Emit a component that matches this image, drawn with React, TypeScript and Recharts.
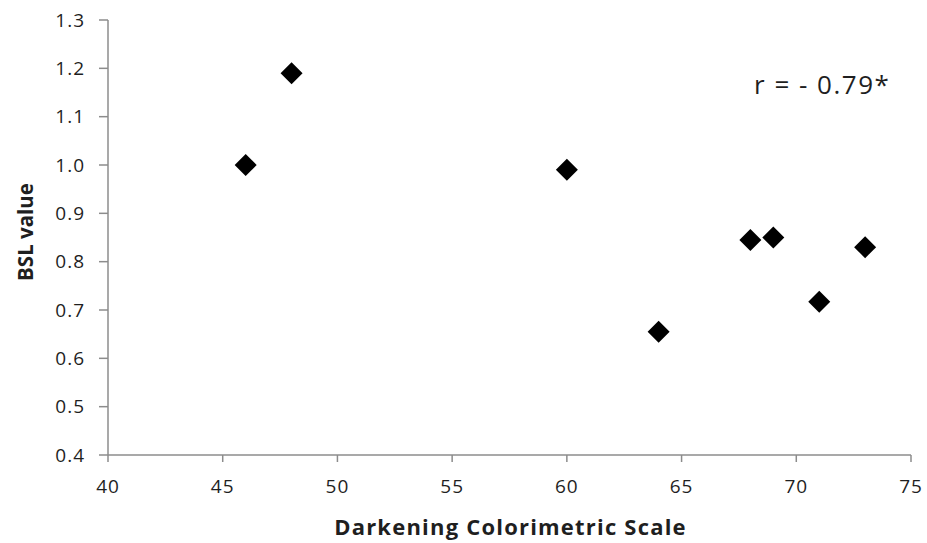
import React from 'react';
import { ScatterChart, Scatter, XAxis, YAxis, Label } from 'recharts';

const darkening: number[] = [46, 48, 60, 64, 68, 69, 71, 73];
const bsl: number[] = [1.0, 1.19, 0.99, 0.655, 0.845, 0.85, 0.717, 0.83];
const xTicks: number[] = [40, 45, 50, 55, 60, 65, 70, 75];
const yTicks: number[] = [0.4, 0.5, 0.6, 0.7, 0.8, 0.9, 1.0, 1.1, 1.2, 1.3];
const xTitle = 'Darkening Colorimetric Scale';
const yTitle = 'BSL value';
const annotation = 'r = - 0.79*';

const data = darkening.map((x, i) => ({ x, y: bsl[i] }));

const FONT = '"Open Sans", sans-serif';
const AXIS = '#8c8c8c';
const TEXT = '#1f1f1f';

const Diamond = (props: any) => {
  const { cx, cy } = props;
  const h = 11;
  return (
    <polygon
      points={`${cx},${cy - h} ${cx + h},${cy} ${cx},${cy + h} ${cx - h},${cy}`}
      fill="#000"
    />
  );
};

export default function App() {
  return (
    <div style={{ position: 'absolute', left: 0, top: 0, width: 927, height: 543, background: '#fff' }}>
      <ScatterChart width={927} height={543} margin={{ top: 20, right: 16, bottom: 0, left: 0 }}>
        <XAxis
          type="number"
          dataKey="x"
          domain={[40, 75]}
          ticks={xTicks}
          interval={0}
          height={88}
          tickSize={7}
          tickMargin={18}
          axisLine={{ stroke: AXIS, strokeWidth: 1.5 }}
          tickLine={{ stroke: AXIS, strokeWidth: 1.5 }}
          tick={{ fill: TEXT, fontSize: 19, fontFamily: FONT, letterSpacing: 1 }}
        >
          <Label
            content={(p: any) => {
              const vb = p.viewBox;
              return (
                <text
                  x={vb.x + vb.width / 2 + 1}
                  y={535}
                  textAnchor="middle"
                  fontFamily={FONT}
                  fontWeight="bold"
                  fontSize={22}
                  letterSpacing={1.2}
                  fill={TEXT}
                >
                  {xTitle}
                </text>
              );
            }}
          />
        </XAxis>
        <YAxis
          type="number"
          dataKey="y"
          domain={[0.4, 1.3]}
          ticks={yTicks}
          interval={0}
          width={108}
          tickSize={9}
          tickMargin={14}
          tickFormatter={(v: number) => v.toFixed(1)}
          axisLine={{ stroke: AXIS, strokeWidth: 1.5 }}
          tickLine={{ stroke: AXIS, strokeWidth: 1.5 }}
          tick={{ fill: TEXT, fontSize: 19, fontFamily: FONT, letterSpacing: 1 }}
        >
          <Label
            content={() => {
              const cx = 25;
              const cy = 232;
              return (
                <text
                  x={cx}
                  y={cy}
                  transform={`rotate(-90, ${cx}, ${cy})`}
                  textAnchor="middle"
                  dominantBaseline="central"
                  fontFamily={FONT}
                  fontWeight="bold"
                  fontSize={20.5}
                  fill={TEXT}
                >
                  {yTitle}
                </text>
              );
            }}
          />
        </YAxis>
        <Scatter data={data} shape={Diamond} isAnimationActive={false} />
      </ScatterChart>
      <div
        style={{
          position: 'absolute',
          left: 754,
          top: 66,
          fontFamily: FONT,
          fontSize: 26,
          letterSpacing: 1.5,
          color: TEXT,
          whiteSpace: 'nowrap',
          lineHeight: '36px',
        }}
      >
        {annotation}
      </div>
    </div>
  );
}
